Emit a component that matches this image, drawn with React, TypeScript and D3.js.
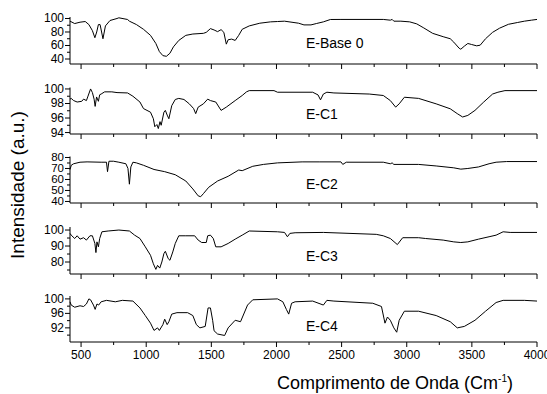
import { useEffect, useRef } from 'react'
import * as d3 from 'd3'

type Pt = [number, number]

// spectra: [wavenumber (cm-1), intensity]
const eBase0: Pt[] = [
  [415, 96], [451, 92.5], [492, 94.5], [532, 95.5], [560, 91], [587, 82], [606, 71.5], [620, 80], [633, 91], [646, 91],
  [668, 70], [687, 89], [722, 97], [776, 100], [790, 101], [857, 98.5], [871, 96], [925, 91], [979, 84], [1033, 75],
  [1074, 63], [1101, 51], [1128, 45], [1155, 44], [1182, 48.5], [1209, 58], [1250, 67.5], [1304, 75], [1358, 77], [1439, 78],
  [1461, 79.5], [1493, 85], [1521, 83], [1548, 80.5], [1575, 83.5], [1596, 79.5], [1615, 62], [1629, 68.5], [1656, 69.5], [1683, 67.5],
  [1710, 75], [1737, 84], [1791, 89], [1872, 93], [1954, 95], [2008, 95.5], [2062, 96], [2170, 93], [2211, 90.5], [2265, 90.5],
  [2306, 92.5], [2360, 95], [2414, 98.5], [2495, 98.6], [2820, 98.6], [2874, 97.5], [2888, 98.6], [2901, 96], [2955, 96], [3023, 95],
  [3077, 92], [3131, 86], [3199, 78], [3280, 73], [3334, 70], [3361, 65], [3402, 56], [3415, 54.5], [3442, 59], [3469, 63],
  [3497, 61.5], [3537, 59.5], [3564, 60.5], [3605, 70], [3659, 79.5], [3713, 85.7], [3781, 91.4], [3849, 94], [3903, 96], [3957, 97.5],
  [4000, 98.6],
]

const eC1: Pt[] = [
  [415, 98.6], [424, 98.7], [443, 98.4], [470, 98.2], [505, 98.3], [519, 98.6], [541, 98.4], [551, 98.9], [573, 100], [587, 99.5],
  [600, 98.6], [608, 97.6], [619, 98.9], [633, 98.3], [643, 99.2], [654, 99.3], [681, 99.6], [736, 99.6], [776, 99.5], [857, 99.45],
  [898, 99], [952, 98.2], [979, 97.3], [1033, 96.8], [1055, 95.9], [1066, 94.8], [1082, 95.1], [1093, 94.55], [1106, 95.5], [1115, 95],
  [1136, 96.8], [1147, 97.05], [1161, 96.4], [1174, 95.9], [1196, 97.7], [1223, 98.55], [1250, 98.7], [1290, 98.55], [1331, 97.95], [1364, 97.3],
  [1380, 96.6], [1399, 97.5], [1439, 97.95], [1472, 98.6], [1493, 98.4], [1534, 98.2], [1575, 97.05], [1615, 97.5], [1683, 98.4], [1737, 99.1],
  [1770, 99.6], [1791, 99.77], [1981, 99.77], [2008, 99.55], [2278, 99.55], [2319, 99.18], [2338, 98.5], [2360, 99.3], [2387, 99.55], [2441, 99.45],
  [2712, 99.3], [2820, 99.1], [2874, 98.4], [2915, 97.5], [2942, 97.95], [2982, 98.86], [3091, 98.7], [3226, 97.95], [3334, 97.27], [3388, 96.6],
  [3429, 96.14], [3469, 96.36], [3524, 97.05], [3591, 98.2], [3659, 99.3], [3700, 99.55], [3754, 99.77], [4000, 99.77],
]

const eC2: Pt[] = [
  [415, 69], [425, 73], [443, 74.3], [492, 75.7], [546, 76], [654, 75.7], [695, 75.7], [703, 67.1], [714, 76.6], [749, 76.6],
  [790, 75.7], [844, 74.3], [860, 70], [871, 55.7], [882, 71.4], [898, 75.7], [925, 75.1], [979, 72.9], [1060, 69.1], [1142, 67.1],
  [1223, 64.3], [1304, 58.6], [1358, 51.4], [1399, 45.1], [1418, 44.3], [1439, 47.1], [1480, 52.9], [1548, 58.6], [1629, 62.9], [1710, 68.6],
  [1737, 68], [1818, 72], [1900, 73.7], [2008, 75.1], [2197, 76], [2333, 76], [2495, 76], [2509, 73.7], [2536, 75.7], [2820, 75.7],
  [2874, 74.3], [2888, 75.1], [2901, 73.7], [3091, 73.7], [3226, 72.3], [3361, 70.6], [3415, 69.4], [3469, 70], [3551, 71.4], [3632, 74.3],
  [3686, 75.7], [3767, 76.3], [4000, 76.3],
]

const eC3: Pt[] = [
  [415, 97.9], [424, 96.8], [451, 94.7], [470, 96.4], [492, 94.3], [519, 95.2], [541, 93.7], [568, 96.4], [587, 96.4], [606, 91.6],
  [614, 85.9], [622, 92.6], [633, 89.5], [643, 94.7], [660, 98.9], [708, 99.4], [790, 100], [871, 99.4], [911, 96.8], [952, 94.7],
  [993, 89.5], [1033, 84.2], [1055, 78.9], [1074, 75.4], [1087, 77.9], [1104, 76.2], [1120, 80], [1136, 85.3], [1147, 86.7], [1169, 82.1],
  [1182, 81.1], [1204, 86.3], [1223, 91.6], [1250, 96.4], [1304, 96.4], [1372, 96.4], [1399, 93.7], [1426, 92.2], [1461, 92.2], [1472, 96.4],
  [1493, 96.8], [1515, 94.7], [1534, 89.5], [1575, 89.5], [1629, 91.6], [1683, 94.3], [1737, 96.8], [1791, 99.4], [2008, 98.9], [2062, 98.5],
  [2084, 95.8], [2103, 97.9], [2143, 98.3], [2360, 98.5], [2766, 97.3], [2820, 96.4], [2874, 94.7], [2928, 90.9], [2969, 95.2], [3091, 95.2],
  [3145, 94.7], [3280, 93.7], [3361, 92.6], [3415, 92.2], [3469, 92.6], [3551, 94.3], [3632, 95.8], [3686, 96.8], [3740, 98.9], [3794, 98.5],
  [4000, 98.5],
]

const eC4: Pt[] = [
  [415, 99.2], [424, 98.3], [451, 97.7], [492, 98.1], [519, 97.9], [541, 98.6], [560, 100], [573, 99.75], [595, 98.3], [608, 97.1],
  [622, 98.6], [635, 98.3], [654, 99.2], [695, 99.6], [763, 99.2], [817, 99.6], [898, 99.4], [952, 97.5], [993, 95.4], [1033, 93.3],
  [1060, 91.3], [1087, 92], [1101, 91.3], [1128, 92.9], [1142, 94.4], [1161, 92.9], [1174, 93.7], [1196, 95.8], [1236, 96.2], [1318, 96.2],
  [1358, 95.4], [1385, 92.9], [1412, 92], [1453, 92.4], [1475, 97.5], [1493, 97.5], [1510, 94.1], [1521, 91.2], [1548, 90.3], [1602, 89.9],
  [1629, 92], [1683, 94.1], [1724, 93.7], [1778, 98.3], [1818, 99.75], [2008, 100], [2049, 99.2], [2076, 97.1], [2094, 95.8], [2116, 98.8],
  [2143, 99.2], [2278, 99.4], [2360, 98.3], [2387, 99.6], [2441, 99.4], [2739, 98.8], [2806, 97.9], [2833, 93.3], [2852, 95], [2874, 94.1],
  [2901, 92], [2923, 90.8], [2942, 94.1], [2982, 96.6], [3091, 96.6], [3226, 95.4], [3334, 93.7], [3388, 92], [3442, 92.4], [3524, 94.1],
  [3605, 96.6], [3686, 99], [3740, 99.6], [3903, 99.6], [4000, 99.4],
]

const sampleLabels = ['E-Base 0', 'E-C1', 'E-C2', 'E-C3', 'E-C4']
const xMajorTicks = [500, 1000, 1500, 2000, 2500, 3000, 3500, 4000]
const xMinorTicks = [750, 1250, 1750, 2250, 2750, 3250, 3750]
const yMajorTicks = [[40, 60, 80, 100], [94, 96, 98, 100], [40, 50, 60, 70, 80], [80, 90, 100], [92, 96, 100]]
const yMinorTicks = [[50, 70, 90], [95, 97, 99], [45, 55, 65, 75], [75, 85, 95], [90, 94, 98]]

const App = () => {
  const svgRef = useRef<SVGSVGElement>(null)

  useEffect(() => {
    if (!svgRef.current) return
    const svg = d3.select(svgRef.current)
    svg.selectAll('*').remove()

    const font = 'Liberation Sans, Arial, sans-serif'
    const x = d3.scaleLinear().domain([415, 4000]).range([70, 537])

    // layer boxes: y domain + pixel range [bottom, top]
    const layers = [
      { data: eBase0, domain: [32.6, 102.2], range: [64, 17], labelY: 48 },
      { data: eC1, domain: [93.8, 100.2], range: [134, 87.5], labelY: 119 },
      { data: eC2, domain: [38.6, 80.9], range: [203, 156.5], labelY: 189 },
      { data: eC3, domain: [72.5, 101.9], range: [274, 227], labelY: 261 },
      { data: eC4, domain: [88.1, 100.8], range: [342, 296], labelY: 331 },
    ]

    layers.forEach((layer, i) => {
      const y = d3.scaleLinear().domain(layer.domain).range(layer.range)
      const g = svg.append('g')
      const [bottom, top] = layer.range

      // bottom axis
      g.append('line')
        .attr('x1', 70).attr('x2', 537)
        .attr('y1', bottom).attr('y2', bottom)
        .attr('stroke', '#000').attr('stroke-width', 1)
      xMajorTicks.forEach(t => {
        g.append('line')
          .attr('x1', x(t)).attr('x2', x(t))
          .attr('y1', bottom).attr('y2', bottom + 5)
          .attr('stroke', '#000')
      })
      xMinorTicks.forEach(t => {
        g.append('line')
          .attr('x1', x(t)).attr('x2', x(t))
          .attr('y1', bottom).attr('y2', bottom + 3)
          .attr('stroke', '#000')
      })

      // left axis
      g.append('line')
        .attr('x1', 70).attr('x2', 70)
        .attr('y1', top).attr('y2', bottom)
        .attr('stroke', '#000')
      yMajorTicks[i].forEach(t => {
        g.append('line')
          .attr('x1', 65).attr('x2', 70)
          .attr('y1', y(t)).attr('y2', y(t))
          .attr('stroke', '#000')
        g.append('text')
          .attr('x', 64).attr('y', y(t) + 4)
          .attr('text-anchor', 'end')
          .style('font-family', font)
          .style('font-size', i === 2 ? '11.5px' : '12px')
          .text(t)
      })
      yMinorTicks[i].forEach(t => {
        g.append('line')
          .attr('x1', 67).attr('x2', 70)
          .attr('y1', y(t)).attr('y2', y(t))
          .attr('stroke', '#000')
      })

      const line = d3.line<Pt>().x(d => x(d[0])).y(d => y(d[1]))
      g.append('path')
        .datum(layer.data)
        .attr('fill', 'none')
        .attr('stroke', '#000')
        .attr('stroke-width', 1)
        .attr('d', line)

      g.append('text')
        .attr('x', 306).attr('y', layer.labelY)
        .style('font-family', font)
        .style('font-size', '14px')
        .text(sampleLabels[i])

      if (i === layers.length - 1) {
        xMajorTicks.forEach(t => {
          g.append('text')
            .attr('x', x(t)).attr('y', bottom + 17)
            .attr('text-anchor', 'middle')
            .style('font-family', font)
            .style('font-size', '12px')
            .text(t)
        })
      }
    })

    // axis titles
    const xt = svg.append('text')
      .attr('x', 395).attr('y', 389)
      .attr('text-anchor', 'middle')
      .style('font-family', font)
      .style('font-size', '18px')
    xt.append('tspan').text('Comprimento de Onda (Cm')
    xt.append('tspan').attr('dy', -7).style('font-size', '10px').text('-1')
    xt.append('tspan').attr('dy', 7).text(')')

    svg.append('text')
      .attr('transform', 'translate(24,185) rotate(-90)')
      .attr('text-anchor', 'middle')
      .style('font-family', font)
      .style('font-size', '19px')
      .text('Intensidade (a.u.)')
  }, [])

  return (
    <svg
      ref={svgRef}
      width={547}
      height={394}
      style={{ position: 'absolute', left: 0, top: 0, background: '#fff' }}
    />
  )
}

export default App
